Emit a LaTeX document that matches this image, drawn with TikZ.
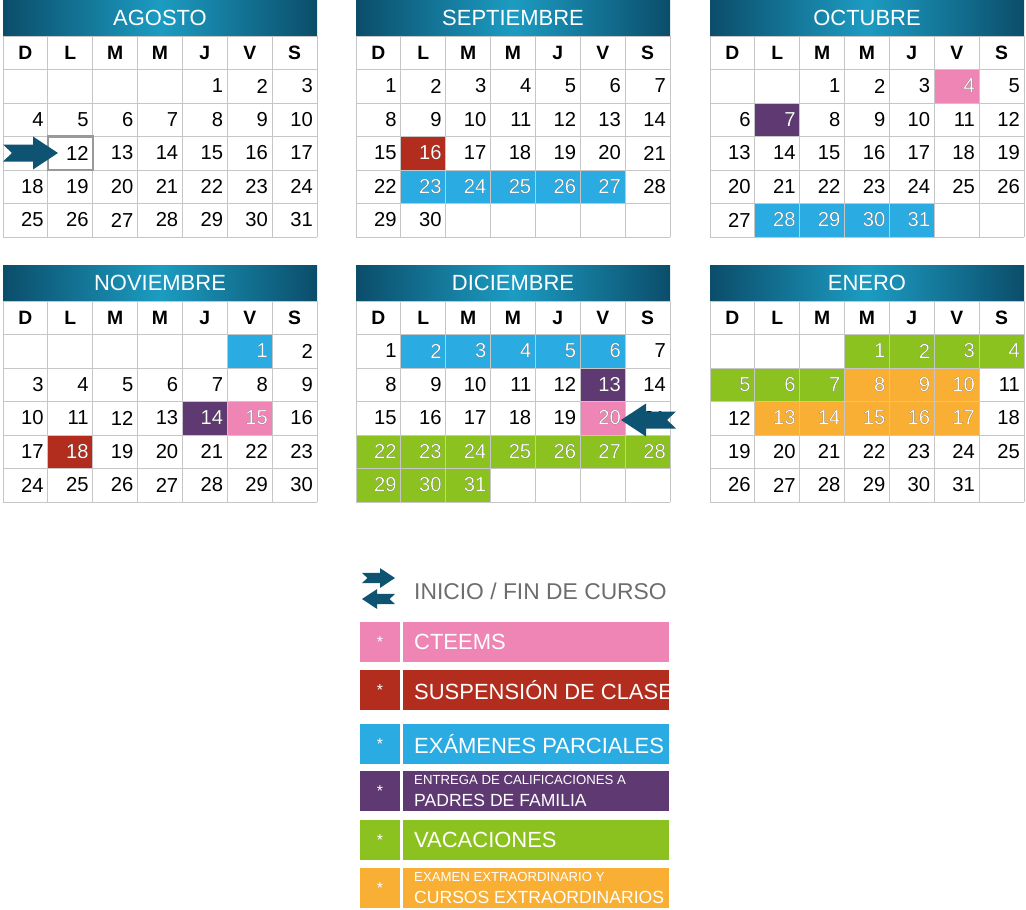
\documentclass[tikz,border=0pt]{standalone}
\usepackage{fontspec}
\setmainfont{Liberation Sans}
\definecolor{hpink}{HTML}{EE85B5}
\definecolor{hred}{HTML}{B32D1F}
\definecolor{hblue}{HTML}{2AABE2}
\definecolor{hpurple}{HTML}{5F3A72}
\definecolor{hgreen}{HTML}{8CC21F}
\definecolor{horange}{HTML}{F8AF33}
\definecolor{arrowblue}{HTML}{0E5372}
\definecolor{hdrdark}{HTML}{0B4D6A}
\definecolor{hdrlight}{HTML}{1C9CC2}
\definecolor{legendgray}{HTML}{6D6D6D}
\tikzset{startarrow/.pic={\fill[arrowblue] (0,-8.5)--(30,-8.5)--(30,-16.5)--(55,0)--(30,16.5)--(30,8.5)--(0,8.5)--(9,0)--cycle;}}
% one month: x0, y0, name, first column, days, highlighted days
\newcommand\calmonth[6]{%
  \shade[left color=hdrdark,right color=hdrdark,middle color=hdrlight] (#1,#2) rectangle ++(314,36);
  \node[hdrtext] (#3) at (#1+157,#2+18) {#3};
  \foreach \dd/\cc in {#6} {
    \pgfmathtruncatemacro\c{mod(\dd-1+#4,7)}
    \pgfmathtruncatemacro\r{div(\dd-1+#4,7)}
    \fill[\cc] (#1+\c*44.86,#2+69.5+\r*33.5) rectangle ++(44.86,33.5);
  }
  \foreach \i in {0,...,7} \draw[gridline] (#1+\i*44.86,#2+36) -- ++(0,201);
  \foreach \j in {0,...,6} \draw[gridline] (#1,#2+36+\j*33.5) -- ++(314,0);
  \foreach \d [count=\i from 0] in {D,L,M,M,J,V,S}
    \node[wday] at (#1+22.4+\i*44.86,#2+52.7) {\d};
  \foreach \n in {1,...,#5} {
    \pgfmathtruncatemacro\c{mod(\n-1+#4,7)}
    \pgfmathtruncatemacro\r{div(\n-1+#4,7)}
    \node[daynum] at (#1+\c*44.86+41,#2+86+\r*33.5) {\n};
  }
  \foreach \dd/\cc in {#6} {
    \pgfmathtruncatemacro\c{mod(\dd-1+#4,7)}
    \pgfmathtruncatemacro\r{div(\dd-1+#4,7)}
    \node[daynum,white] at (#1+\c*44.86+41,#2+86+\r*33.5) {\dd};
  }
}
\begin{document}
\begin{tikzpicture}
[x=0.02cm,y=-0.02cm,
  hdrtext/.style={text=white,font=\fontsize{12.5}{14}\selectfont},
  wday/.style={font=\bfseries\fontsize{11}{13}\selectfont},
  daynum/.style={anchor=east,inner sep=0pt,font=\fontsize{11.5}{13}\selectfont},
  gridline/.style={draw=gray!45,line width=0.5pt},
  keysmall/.style={minimum width=40*0.02cm,minimum height=40*0.02cm,inner sep=0pt,text=white,font=\small},
  keybig/.style={minimum width=266*0.02cm,minimum height=40*0.02cm,inner sep=0pt},
  keytext/.style={anchor=west,text=white,align=left}]
\useasboundingbox (0,0) rectangle (1026,909);
% months
\calmonth{3}{0}{AGOSTO}{4}{31}{}
\calmonth{356}{0}{SEPTIEMBRE}{0}{30}{16/hred,23/hblue,24/hblue,25/hblue,26/hblue,27/hblue}
\calmonth{710}{0}{OCTUBRE}{2}{31}{4/hpink,7/hpurple,28/hblue,29/hblue,30/hblue,31/hblue}
\calmonth{3}{265}{NOVIEMBRE}{5}{30}{1/hblue,14/hpurple,15/hpink,18/hred}
\calmonth{356}{265}{DICIEMBRE}{0}{31}{2/hblue,3/hblue,4/hblue,5/hblue,6/hblue,13/hpurple,20/hpink,22/hgreen,23/hgreen,24/hgreen,25/hgreen,26/hgreen,27/hgreen,28/hgreen,29/hgreen,30/hgreen,31/hgreen}
\calmonth{710}{265}{ENERO}{3}{31}{1/hgreen,2/hgreen,3/hgreen,4/hgreen,5/hgreen,6/hgreen,7/hgreen,8/horange,9/horange,10/horange,13/horange,14/horange,15/horange,16/horange,17/horange}
% start and end of course
\draw[gray!80,line width=1.2pt] (47.9,136.5) rectangle ++(44.86,33.5);
\pic at (3,153) {startarrow};
\pic[xscale=-1] at (676,420) {startarrow};
% legend
\pic[scale=0.6] at (362,578) {startarrow};
\pic[xscale=-0.6,yscale=0.6] at (395,599) {startarrow};
\node[anchor=west,text=legendgray,font=\fontsize{13}{15}\selectfont] (inicio) at (408,591) {INICIO / FIN DE CURSO};
\foreach \name/\cc/\yy/\txt in {
  cteems/hpink/642/{\fontsize{12.5}{14}\selectfont CTEEMS},
  suspension/hred/690/{\fontsize{12.5}{14}\selectfont SUSPENSIÓN DE CLASES},
  parciales/hblue/744/{\fontsize{12.5}{14}\selectfont EXÁMENES PARCIALES},
  entrega/hpurple/791/{\fontsize{7.5}{9}\selectfont ENTREGA DE CALIFICACIONES A\\PADRES DE FAMILIA},
  vacaciones/hgreen/840/{\fontsize{12.5}{14}\selectfont VACACIONES},
  extra/horange/888/{\fontsize{7.5}{9}\selectfont EXAMEN EXTRAORDINARIO Y\\CURSOS EXTRAORDINARIOS}} {
  \node[keysmall,fill=\cc] (\name-mark) at (380,\yy) {*};
  \node[keybig,fill=\cc] (\name) at (536,\yy) {};
  \node[keytext] at (408,\yy) {\txt};
}
\end{tikzpicture}
\end{document}
